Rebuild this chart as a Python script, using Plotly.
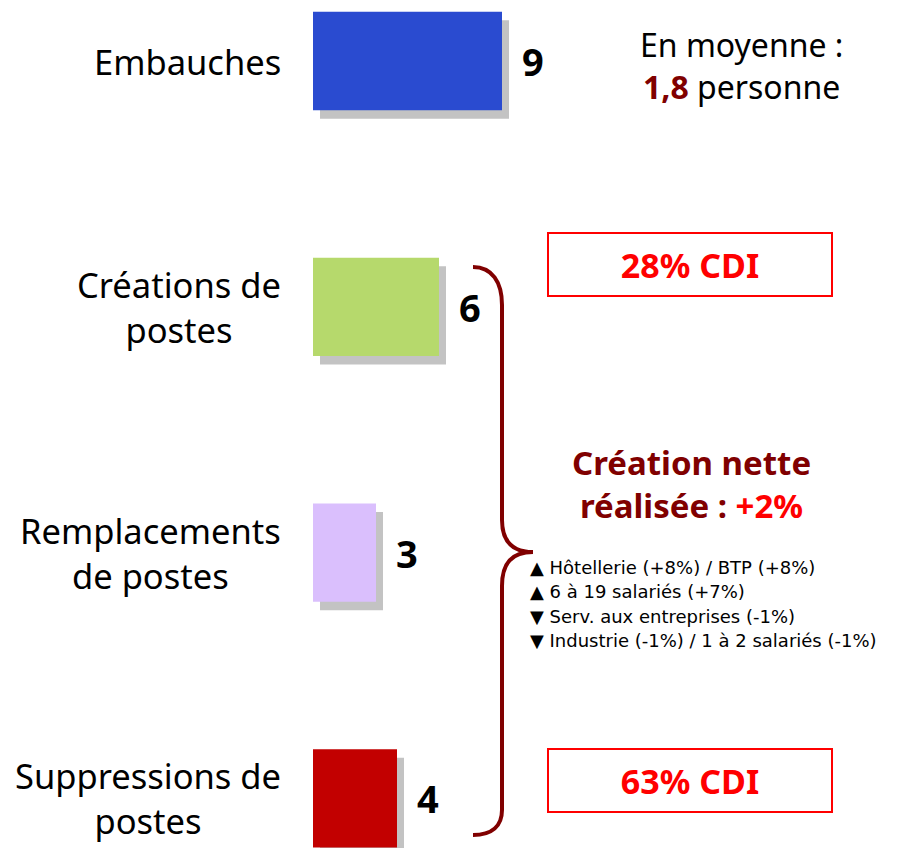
import plotly.graph_objects as go

# ---- data ----
categories = ["Embauches", "Créations de<br>postes", "Remplacements<br>de postes", "Suppressions de<br>postes"]
values = [9, 6, 3, 4]
value_labels = ["9", "6", "3", "4"]
bar_colors = ["#2a4bd0", "#b6d96c", "#dabffd", "#c20000"]
cdi_labels = ["28% CDI", "63% CDI"]
moyenne_value = "1,8"
net_creation = "+2%"
detail_lines = [
    "▲ Hôtellerie (+8%) / BTP (+8%)",
    "▲ 6 à 19 salariés (+7%)",
    "▼ Serv. aux entreprises (-1%)",
    "▼ Industrie (-1%) / 1 à 2 salariés (-1%)",
]

OFF = 8            # page body margin in the browser
W, H = 892, 840
FONT = "Noto Sans, DejaVu Sans, sans-serif"
SMALL_FONT = "DejaVu Sans, Noto Sans, sans-serif"
MAROON = "#800000"
RED = "#ff0000"
SHADOW = "#c3c3c3"

pos = list(range(len(categories)))

def px(x):
    return (x - OFF) / W

def py(y):
    return 1 - (y - OFF) / H

X0 = 313 - OFF     # pixel of value 0
SCALE = 21         # pixels per unit
Y0 = 61 - OFF      # pixel centre of first row
STEP = 245.8       # pixels between rows

fig = go.Figure()

# shadows
fig.add_trace(go.Bar(
    orientation="h", x=values, y=[p + 8.5 / STEP for p in pos], base=7 / SCALE,
    width=0.4, marker=dict(color=SHADOW, line=dict(width=0)), hoverinfo="skip",
))
# bars
fig.add_trace(go.Bar(
    orientation="h", x=values, y=pos, base=0,
    width=0.4, marker=dict(color=bar_colors, line=dict(width=0)),
))

annotations = []
# category labels
for p, c in zip(pos, categories):
    annotations.append(dict(
        x=px(283), xref="paper", y=p, yref="y", text=c, showarrow=False,
        xanchor="right", yanchor="middle", align="center",
        font=dict(family=FONT, size=34.5, color="#000000"),
    ))
# value labels
for p, v, t in zip(pos, values, value_labels):
    annotations.append(dict(
        x=v, xref="x", y=p, yref="y", text="<b>%s</b>" % t, showarrow=False,
        xanchor="left", yanchor="middle", xshift=18,
        font=dict(family=FONT, size=38, color="#000000"),
    ))

# average
annotations.append(dict(
    x=px(741), y=py(66), xref="paper", yref="paper", showarrow=False,
    text="En moyenne :<br><span style='color:%s'><b>%s</b></span> personne" % (MAROON, moyenne_value),
    xanchor="center", yanchor="middle", align="center",
    font=dict(family=FONT, size=32, color="#000000"),
))

# CDI boxes
for yc, t in zip([264.5, 780], cdi_labels):
    annotations.append(dict(
        x=px(690), y=py(yc), xref="paper", yref="paper", showarrow=False,
        text="<b>%s</b>" % t, xanchor="center", yanchor="middle", align="center",
        width=282, height=61, borderpad=0, bordercolor=RED, borderwidth=2,
        font=dict(family=FONT, size=34, color=RED),
    ))

# net creation
annotations.append(dict(
    x=px(691), y=py(484), xref="paper", yref="paper", showarrow=False,
    text="<b>Création nette<br>réalisée : <span style='color:%s'>%s</span></b>" % (RED, net_creation),
    xanchor="center", yanchor="middle", align="center",
    font=dict(family=FONT, size=33, color=MAROON),
))

# detail lines
for i, t in enumerate(detail_lines):
    annotations.append(dict(
        x=px(529), y=py(567 + 24.6 * i), xref="paper", yref="paper", showarrow=False,
        text=t, xanchor="left", yanchor="middle", align="left", borderpad=0,
        font=dict(family=SMALL_FONT, size=18, color="#000000"),
    ))

# brace
pts = [(473, 267), (492, 267), (502, 282), (502, 305),
       (502, 520), (502, 541), (512, 552), (533, 552),
       (512, 552), (502, 563), (502, 586),
       (502, 810), (502, 826), (492, 835), (473, 835)]
def P(i):
    x, y = pts[i]
    return "%.5f,%.5f" % (px(x), py(y))
path = ("M " + P(0) + " C " + P(1) + " " + P(2) + " " + P(3) +
        " L " + P(4) + " C " + P(5) + " " + P(6) + " " + P(7) +
        " C " + P(8) + " " + P(9) + " " + P(10) +
        " L " + P(11) + " C " + P(12) + " " + P(13) + " " + P(14))
shapes = [dict(type="path", xref="paper", yref="paper", path=path,
               line=dict(color=MAROON, width=4), fillcolor="rgba(0,0,0,0)")]

fig.update_layout(
    width=W, height=H, margin=dict(l=0, r=0, t=0, b=0),
    paper_bgcolor="white", plot_bgcolor="white",
    barmode="overlay", showlegend=False,
    xaxis=dict(range=[-X0 / SCALE, (W - X0) / SCALE], visible=False, fixedrange=True),
    yaxis=dict(range=[(H - Y0) / STEP, -Y0 / STEP], visible=False, fixedrange=True),
    annotations=annotations, shapes=shapes,
)

fig.write_html("out.html")
